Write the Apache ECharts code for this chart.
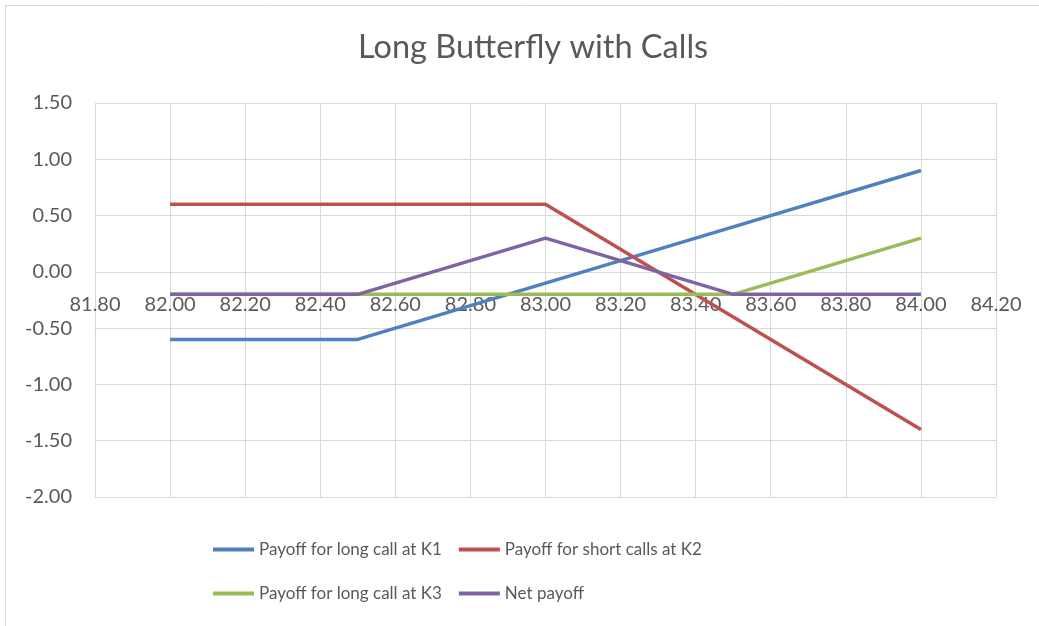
<!DOCTYPE html>
<html>
<head>
<meta charset="utf-8">
<script src="https://cdn.jsdelivr.net/npm/echarts@6/dist/echarts.min.js"></script>
<style>
  html, body { margin: 0; padding: 0; background: #fff; }
  #chart { width: 1039px; height: 626px; }
</style>
</head>
<body>
<div id="chart"></div>
<script>
// stock price at expiry
const prices = [82.0, 82.5, 83.0, 83.5, 84.0]
const longCallK1 = [-0.6, -0.6, -0.1, 0.4, 0.9]
const shortCallsK2 = [0.6, 0.6, 0.6, -0.4, -1.4]
const longCallK3 = [-0.2, -0.2, -0.2, -0.2, 0.3]
const netPayoff = [-0.2, -0.2, 0.3, -0.2, -0.2]

const seriesNames = [
  'Payoff for long call at K1',
  'Payoff for short calls at K2',
  'Payoff for long call at K3',
  'Net payoff'
]
const colors = ['#4F81BD', '#C0504D', '#9BBB59', '#8064A2']
const FONT = 'Lato'
const textColor = '#595959'
const gridColor = '#D9D9D9'

function pairs(ys) {
  return prices.map((x, i) => [x, ys[i]])
}

const chart = echarts.init(document.getElementById('chart'))

const legendStyle = {
  left: 213,
  padding: 0,
  orient: 'horizontal',
  icon: 'rect',
  itemWidth: 41,
  itemHeight: 4,
  itemGap: 17,
  textStyle: { color: textColor, fontSize: 17, fontFamily: FONT }
}

chart.setOption({
  animation: false,
  color: colors,
  title: {
    text: 'Long Butterfly with Calls',
    left: 353,
    top: 26,
    textStyle: { color: textColor, fontSize: 32.5, fontWeight: 'normal', fontFamily: FONT }
  },
  graphic: [{
    type: 'rect',
    shape: { x: 5.5, y: 5.5, width: 1100, height: 700 },
    style: { fill: 'none', stroke: gridColor, lineWidth: 1 },
    silent: true
  }],
  legend: [
    Object.assign({}, legendStyle, { top: 541, data: seriesNames.slice(0, 2) }),
    Object.assign({}, legendStyle, { top: 585, data: seriesNames.slice(2, 4) })
  ],
  grid: { left: 95, right: 43, top: 103, bottom: 129 },
  xAxis: {
    type: 'value',
    min: 81.8,
    max: 84.2,
    interval: 0.2,
    // sit the axis on the zero line (0 is 225px above the bottom of the grid)
    offset: -225,
    axisLine: { lineStyle: { color: gridColor, width: 1 } },
    axisTick: { show: false },
    axisLabel: {
      color: textColor, fontSize: 20, fontFamily: FONT, margin: 23,
      formatter: v => v.toFixed(2)
    },
    splitLine: { show: true, lineStyle: { color: gridColor, width: 1 } }
  },
  yAxis: {
    type: 'value',
    min: -2,
    max: 1.5,
    interval: 0.5,
    axisLine: { show: false },
    axisTick: { show: false },
    axisLabel: {
      color: textColor, fontSize: 20, fontFamily: FONT, margin: 23,
      formatter: v => v.toFixed(2)
    },
    splitLine: { show: true, lineStyle: { color: gridColor, width: 1 } }
  },
  series: [
    { name: seriesNames[0], data: pairs(longCallK1) },
    { name: seriesNames[1], data: pairs(shortCallsK2) },
    { name: seriesNames[2], data: pairs(longCallK3) },
    { name: seriesNames[3], data: pairs(netPayoff) }
  ].map(s => Object.assign(s, {
    type: 'line',
    symbol: 'none',
    lineStyle: { width: 3.5 }
  }))
})
</script>
</body>
</html>
